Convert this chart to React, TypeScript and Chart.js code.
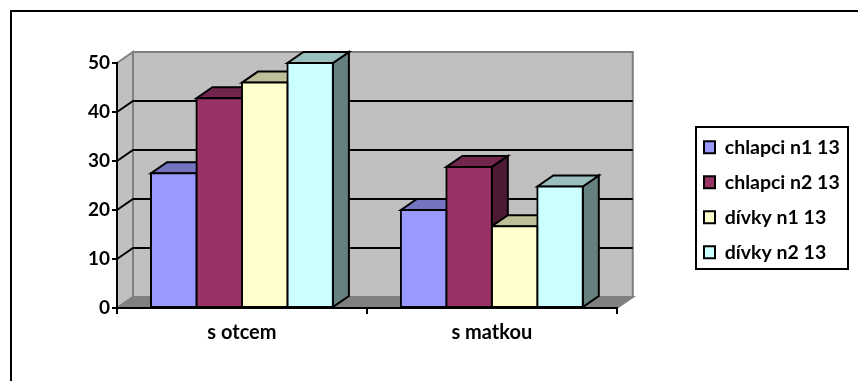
import React, { useEffect, useRef } from "react";
import { Chart, registerables } from "chart.js";

Chart.register(...registerables);

const categories = ["s otcem", "s matkou"];
const seriesNames = ["chlapci n1 13", "chlapci n2 13", "dívky n1 13", "dívky n2 13"];
const chlapciN1 = [27.5, 20];
const chlapciN2 = [42.8, 28.8];
const divkyN1 = [46, 16.7];
const divkyN2 = [50, 24.8];
const frontColors = ["#9999FF", "#993366", "#FFFFCC", "#CCFFFF"];
const topColors = ["#7373BF", "#73264D", "#BFBF99", "#99BFBF"];
const sideColors = ["#4D4D80", "#4D1A33", "#808066", "#668080"];

// Pseudo-3D box depth, in pixels.
const DEPTH_X = 16;
const DEPTH_Y = -11;

const poly = (ctx: CanvasRenderingContext2D, pts: number[][], fill: string, stroke: string, lw = 2) => {
  ctx.beginPath();
  pts.forEach(([x, y], i) => (i ? ctx.lineTo(x, y) : ctx.moveTo(x, y)));
  ctx.closePath();
  ctx.fillStyle = fill;
  ctx.fill();
  ctx.lineWidth = lw;
  ctx.lineJoin = "miter";
  ctx.strokeStyle = stroke;
  ctx.stroke();
};

// Walls, floor and gridlines of the 3D box behind the bars.
const wallsPlugin = {
  id: "walls",
  beforeDraw(chart: any) {
    const { ctx, chartArea: a, scales } = chart;
    const { left: l, right: r, top: t, bottom: b } = a;
    const dx = DEPTH_X;
    const dy = DEPTH_Y;
    ctx.save();
    ctx.strokeStyle = "#000";
    ctx.lineWidth = 2;
    ctx.strokeRect(11, 11, 858, 381);
    poly(ctx, [[l, b], [l + dx, b + dy], [l + dx, t + dy], [l, t]], "#C0C0C0", "#808080");
    poly(ctx, [[l + dx, t + dy], [r + dx, t + dy], [r + dx, b + dy], [l + dx, b + dy]], "#C0C0C0", "#808080");
    poly(ctx, [[l, b], [l + dx, b + dy], [r + dx, b + dy], [r, b]], "#808080", "#808080");
    ctx.strokeStyle = "#000";
    ctx.lineWidth = 2;
    for (const tick of scales.y.ticks) {
      if (tick.value === 0 || tick.value === scales.y.max) continue;
      const y = scales.y.getPixelForValue(tick.value);
      ctx.beginPath();
      ctx.moveTo(l, y);
      ctx.lineTo(l + dx, y + dy);
      ctx.lineTo(r + dx, y + dy);
      ctx.stroke();
    }
    ctx.restore();
  },
  // Top and side faces go down left to right so nearer boxes cover farther ones.
  beforeDatasetsDraw(chart: any) {
    const { ctx } = chart;
    const dx = DEPTH_X;
    const dy = DEPTH_Y;
    ctx.save();
    categories.forEach((_, c) => {
      chart.data.datasets.forEach((_d: any, s: number) => {
        const bar = chart.getDatasetMeta(s).data[c];
        const x0 = bar.x - bar.width / 2;
        const x1 = bar.x + bar.width / 2;
        poly(ctx, [[x1, bar.y], [x1 + dx, bar.y + dy], [x1 + dx, bar.base + dy], [x1, bar.base]], sideColors[s], "#000");
        poly(ctx, [[x0, bar.y], [x0 + dx, bar.y + dy], [x1 + dx, bar.y + dy], [x1, bar.y]], topColors[s], "#000");
      });
    });
    ctx.restore();
  },
};

// Puts the legend to the right of the plot, with a plain frame round it.
const legendPlacePlugin = {
  id: "legendPlace",
  afterLayout(chart: any) {
    const lg = chart.legend;
    const w = lg.right - lg.left;
    const h = lg.bottom - lg.top;
    lg.left = 688.5;
    lg.right = 688.5 + w;
    lg.top = 122;
    lg.bottom = 122 + h;
  },
  afterDraw(chart: any) {
    const { ctx } = chart;
    ctx.save();
    ctx.strokeStyle = "#000";
    ctx.lineWidth = 2;
    ctx.strokeRect(696, 127, 152, 142);
    ctx.restore();
  },
};

export default function App() {
  const ref = useRef<HTMLCanvasElement>(null);
  useEffect(() => {
    const values = [chlapciN1, chlapciN2, divkyN1, divkyN2];
    const font = { family: "Lato", weight: "bold" as const };
    const chart = new Chart(ref.current!, {
      type: "bar",
      data: {
        labels: categories,
        datasets: seriesNames.map((label, i) => ({
          label,
          data: values[i],
          backgroundColor: frontColors[i],
          borderColor: "#000",
          borderWidth: 2,
          borderSkipped: false,
          inflateAmount: 1,
          categoryPercentage: 0.728,
          barPercentage: 1,
          clip: false,
        })),
      },
      options: {
        animation: false,
        responsive: false,
        layout: { padding: { left: 0, top: 63, right: 80, bottom: 40 } },
        plugins: {
          tooltip: { enabled: false },
          legend: {
            position: "right",
            align: "start",
            labels: {
              boxWidth: 11,
              boxHeight: 12,
              padding: 15.5,
              color: "#000",
              font: { ...font, size: 19.5 },
            },
          },
        },
        scales: {
          x: {
            grid: { drawOnChartArea: false, color: "#000", tickColor: "#000", tickLength: 6, lineWidth: 2 },
            border: { color: "#000", width: 2 },
            ticks: { color: "#000", font: { ...font, size: 20 }, padding: 7, maxRotation: 0 },
            afterFit: (s: any) => { s.height = 33; },
          },
          y: {
            min: 0,
            max: 50,
            ticks: { stepSize: 10, color: "#000", font: { ...font, size: 19 }, padding: 2 },
            grid: { drawOnChartArea: false, color: "#000", tickColor: "#000", tickLength: 5, lineWidth: 2 },
            border: { color: "#000", width: 2 },
            afterFit: (s: any) => { s.width = 117; },
          },
        },
      },
      plugins: [wallsPlugin, legendPlacePlugin],
    });
    return () => chart.destroy();
  }, []);
  return (
    <div style={{ position: "fixed", left: 0, top: 0, width: 858, height: 381, background: "#fff" }}>
      <canvas ref={ref} width={858} height={381} style={{ display: "block" }} />
    </div>
  );
}
